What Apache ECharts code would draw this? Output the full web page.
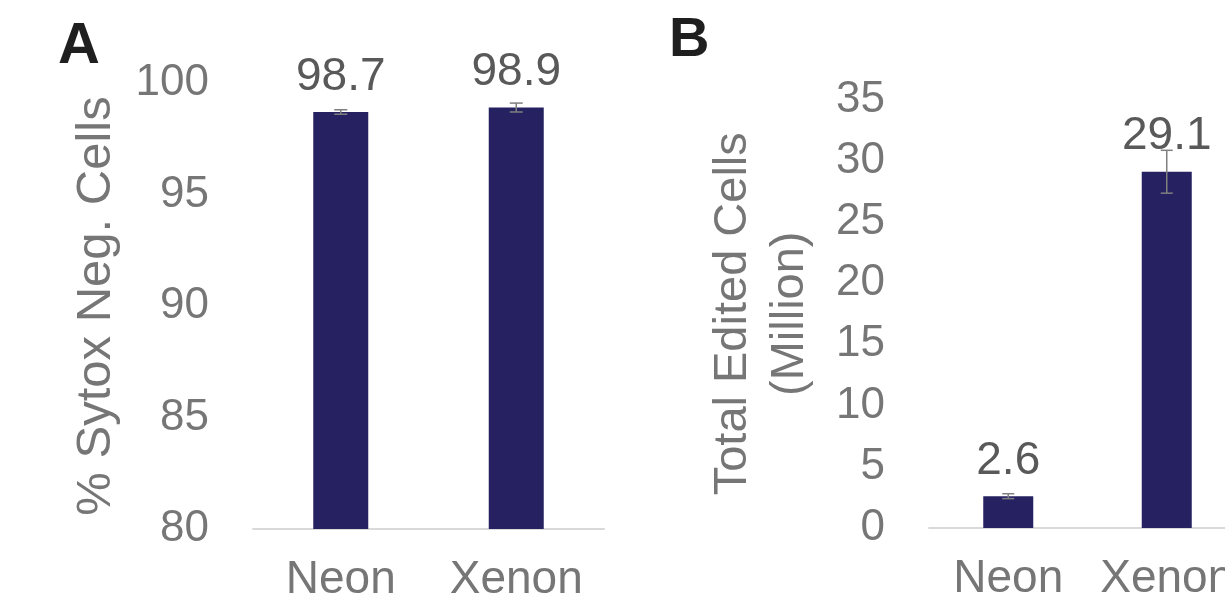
<!DOCTYPE html>
<html>
<head>
<meta charset="utf-8">
<script src="https://cdn.jsdelivr.net/npm/echarts@6/dist/echarts.min.js"></script>
<style>
    html, body { margin: 0; padding: 0; background: #fff; }
    #chart { width: 1225px; height: 601px; }
</style>
</head>
<body>
<div id="chart"></div>
<script>
// shared categories
const categories = ['Neon', 'Xenon']

// panel A - viability
const sytoxValues = [98.7, 98.9]
const sytoxErrors = [0.1, 0.2]
const sytoxAxis = { min: 80, max: 100, interval: 5 }

// panel B - edited cell yield
const editedValues = [2.6, 29.1]
const editedErrors = [0.2, 1.75]
const editedAxis = { min: 0, max: 35, interval: 5 }

const FONT = "'Liberation Sans', Arial, sans-serif"
const BAR = '#262262'
const GREY = '#767676'
const LABEL_GREY = '#595959'

const chart = echarts.init(document.getElementById('chart'))

function errorBar(cap) {
    return function (params, api) {
        const x = api.value(0)
        const v = api.value(1)
        const e = api.value(2)
        const hi = api.coord([x, v + e])
        const lo = api.coord([x, v - e])
        const style = { stroke: '#7f7f7f', lineWidth: 1.5 }
        return {
            type: 'group',
            children: [
                { type: 'line', shape: { x1: hi[0], y1: hi[1], x2: lo[0], y2: lo[1] }, style: style },
                { type: 'line', shape: { x1: hi[0] - cap, y1: hi[1], x2: hi[0] + cap, y2: hi[1] }, style: style },
                { type: 'line', shape: { x1: lo[0] - cap, y1: lo[1], x2: lo[0] + cap, y2: lo[1] }, style: style },
            ],
        }
    }
}

function xAxisFor(gridIndex) {
    return {
        type: 'category',
        gridIndex: gridIndex,
        data: categories,
        axisTick: { show: false },
        axisLine: { lineStyle: { color: '#d9d9d9', width: 2 } },
        axisLabel: {
            fontFamily: FONT,
            fontSize: 46,
            color: GREY,
            margin: 28,
            interval: 0,
            showMinLabel: true,
            showMaxLabel: true,
            hideOverlap: false,
        },
    }
}

function yAxisFor(gridIndex, range, name, nameGap, nameSize, nameLine) {
    return {
        type: 'value',
        gridIndex: gridIndex,
        min: range.min,
        max: range.max,
        interval: range.interval,
        axisLine: { show: false },
        axisTick: { show: false },
        splitLine: { show: false },
        axisLabel: { fontFamily: FONT, fontSize: 44, color: GREY, margin: 44 },
        name: name,
        nameLocation: 'middle',
        nameRotate: 90,
        nameGap: nameGap,
        nameTextStyle: { fontFamily: FONT, fontSize: nameSize, color: GREY, lineHeight: nameLine },
    }
}

function barSeries(idx, values, width) {
    return {
        type: 'bar',
        xAxisIndex: idx,
        yAxisIndex: idx,
        data: values,
        barWidth: width,
        itemStyle: { color: BAR },
        label: {
            show: true,
            position: 'top',
            distance: 12,
            fontFamily: FONT,
            fontSize: 46,
            color: LABEL_GREY,
        },
        z: 2,
    }
}

function errSeries(idx, values, errors, cap) {
    return {
        type: 'custom',
        xAxisIndex: idx,
        yAxisIndex: idx,
        renderItem: errorBar(cap),
        data: values.map((v, i) => [i, v, errors[i]]),
        z: 5,
    }
}

chart.setOption({
    animation: false,
    backgroundColor: '#fff',
    grid: [
        { left: 253, width: 351, top: 83, bottom: 72, outerBoundsMode: 'none' },
        { left: 929, width: 317, top: 99.5, bottom: 73, outerBoundsMode: 'none' },
    ],
    xAxis: [xAxisFor(0), xAxisFor(1)],
    yAxis: [
        yAxisFor(0, sytoxAxis, '% Sytox Neg. Cells', 132, 49, 49),
        yAxisFor(1, editedAxis, 'Total Edited Cells\n(Million)', 110, 47, 57),
    ],
    series: [
        barSeries(0, sytoxValues, 55),
        errSeries(0, sytoxValues, sytoxErrors, 6.5),
        barSeries(1, editedValues, 50),
        errSeries(1, editedValues, editedErrors, 6),
    ],
    graphic: [
        {
            type: 'text', left: 58, top: 18,
            style: { text: 'A', font: "bold 58px " + FONT, fill: '#1f1f1f' },
        },
        {
            type: 'text', left: 669, top: 13,
            style: { text: 'B', font: "bold 56px " + FONT, fill: '#1f1f1f' },
        },
    ],
})
</script>
</body>
</html>
